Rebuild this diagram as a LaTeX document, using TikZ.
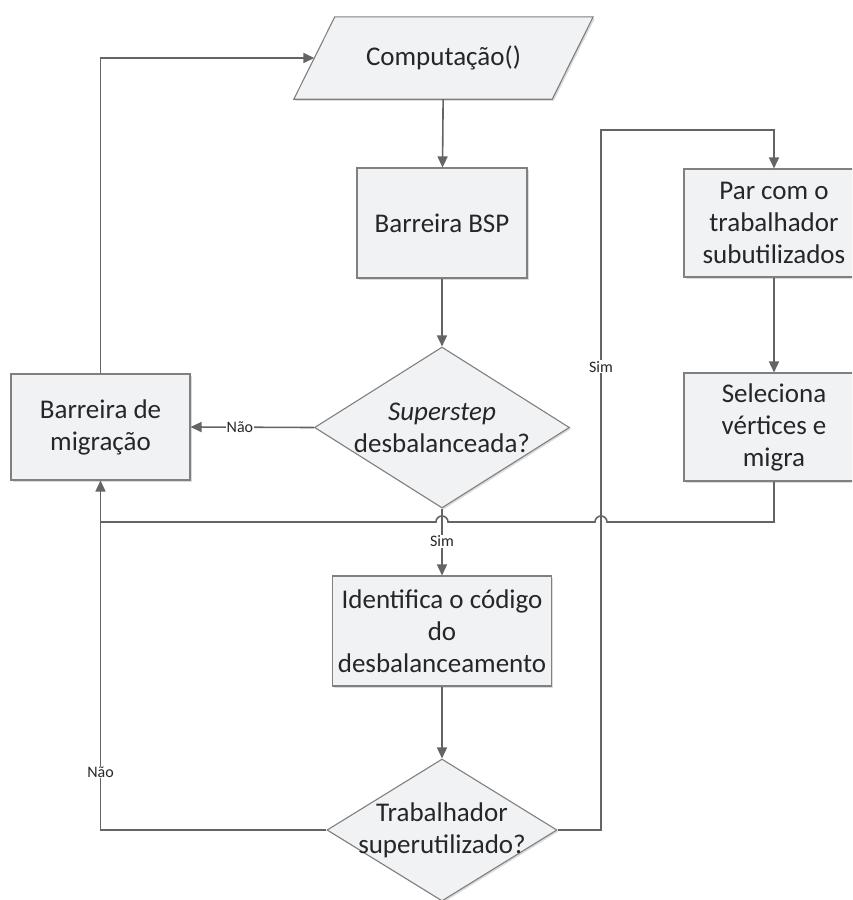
\documentclass[tikz,border=0pt]{standalone}
\usepackage{fontspec}
\setmainfont{Carlito}
\usetikzlibrary{shapes.geometric,arrows.meta,shadows,calc}
\definecolor{boxfill}{HTML}{F1F2F4}
\definecolor{boxline}{HTML}{808080}
\definecolor{wire}{HTML}{646464}
\definecolor{txt}{HTML}{262626}
\begin{document}
\begin{tikzpicture}[x=1pt,y=-1pt,
  boxlook/.style={draw=boxline, fill=boxfill, line width=1.1pt,
    drop shadow={shadow xshift=1.6pt, shadow yshift=-1.6pt, fill=black!14, opacity=1}},
  boxtext/.style={text=txt, font=\fontsize{27}{32}\selectfont, align=center},
  procbox/.style={boxlook, boxtext, rectangle, inner sep=0pt},
  decision/.style={boxlook, diamond, inner sep=0pt},
  conn/.style={draw=wire, line width=1.6pt, -{Triangle[length=11pt,width=10pt]}},
  plainconn/.style={draw=wire, line width=1.6pt},
  lbl/.style={fill=white, inner sep=1pt, text=txt, font=\fontsize{16}{18}\selectfont}]
\useasboundingbox (0,0) rectangle (852,900);
\clip (0,0) rectangle (852,900);

% input/output step: parallelogram drawn around a plain text node
\node[boxtext, minimum width=258pt, minimum height=82pt, inner sep=0pt] (comp) at (443.5,58) {};
\path[boxlook] ($(comp.north west)+(20.5,0)$) -- ($(comp.north east)+(20.5,0)$)
  -- ($(comp.south east)+(-20.5,0)$) -- ($(comp.south west)+(-20.5,0)$) -- cycle;
\node[boxtext] at (comp.center) {Computação()};

% process boxes and decisions
\node[procbox, minimum width=170pt, minimum height=110pt] (bsp) at (442,223) {Barreira BSP};
\node[decision, minimum width=255pt, minimum height=161pt,
  label={[boxtext]center:\textit{Superstep}\\desbalanceada?}]
  (d1) at (442,427.5) {};
\node[procbox, minimum width=179pt, minimum height=106pt] (mig) at (100.5,427) {Barreira de\\migração};
\node[procbox, minimum width=219pt, minimum height=110pt] (ident) at (442,631) {Identifica o código\\do\\desbalanceamento};
\node[decision, minimum width=230pt, minimum height=142pt,
  label={[boxtext]center:Trabalhador\\superutilizado?}]
  (d2) at (442,830) {};
\node[procbox, minimum width=180pt, minimum height=108pt] (par) at (774,223) {Par com o\\trabalhador\\subutilizados};
\node[procbox, minimum width=180pt, minimum height=108pt] (sel) at (774,427) {Seleciona\\vértices e\\migra};

% routing points
\coordinate (merge) at (100.5,522);
\coordinate (upR) at (601,130);

% connectors
\draw[conn] (comp) -- (bsp);
\draw[conn] (bsp) -- (d1);
\draw[conn] (d1.west) -- node[lbl, pos=0.6] {Não} (mig.east);
\draw[conn] (d1.south) -- node[lbl, pos=0.49] {Sim} (ident.north);
\draw[conn] (ident) -- (d2);
\draw[conn] (d2.west) -| node[lbl, pos=0.583] {Não} (mig.south);
\draw[conn] (d2.east) -| node[lbl, pos=0.831] {Sim} (upR) -| (par.north);
\draw[conn] (par) -- (sel);
\draw[conn] (mig.north) |- (comp.west);
% return line with line hops over the two vertical connectors
\draw[plainconn] (sel.south) |- ($(upR |- merge)+(6,0)$)
  arc[start angle=0, end angle=-180, radius=6]
  -- ($(d1.south |- merge)+(6,0)$)
  arc[start angle=0, end angle=-180, radius=6]
  -- (merge);
\end{tikzpicture}
\end{document}
